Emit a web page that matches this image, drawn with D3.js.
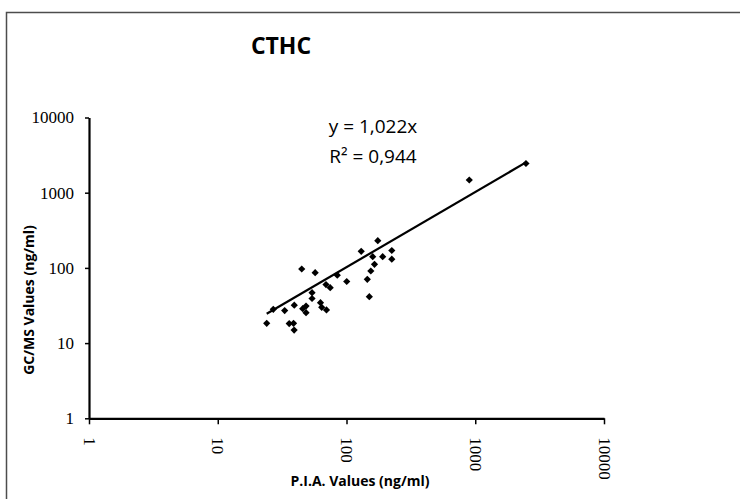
<!DOCTYPE html>
<html>
<head>
<meta charset="utf-8">
<script src="https://cdn.jsdelivr.net/npm/d3@7"></script>
<style>
  body { margin: 0; background: #fff; }
</style>
</head>
<body>
<div id="chart"></div>
<script>
// P.I.A. values (x) and GC/MS values (y), ng/ml
const piaValues = [24.0, 27.0, 33.1, 35.9, 38.8, 39.2, 39.3, 44.9, 45.7, 48.5, 48.5,
  54.0, 54.0, 57.1, 62.8, 64.2, 69.9, 69.3, 74.7, 84.8, 100.4, 130.1, 145.1,
  150.4, 154.5, 159.8, 165, 175, 191, 224.8, 224.8, 899, 2477];
const gcmsValues = [18.3, 28.1, 27.1, 18.2, 18.3, 14.9, 31.9, 96.7, 28.7, 31.1, 25.4,
  46.8, 39.2, 86.3, 34.5, 29.9, 27.6, 60.1, 54.5, 80.0, 65.9, 166.3, 70.5,
  41.4, 90.9, 140.9, 111.6, 230, 140.9, 170.4, 130.5, 1475, 2445];
const tickValues = [1, 10, 100, 1000, 10000];
const slope = 1.022;
const title = "CTHC";
const equation = ["y = 1,022x", "R² = 0,944"];

const width = 740, height = 499;

const svg = d3.select("#chart").append("svg")
  .attr("width", width)
  .attr("height", height)
  .style("font-family", "'Open Sans', sans-serif");

// outer frame (right and bottom edges fall off the picture)
svg.append("rect")
  .attr("x", 6.5).attr("y", 12.5)
  .attr("width", 760).attr("height", 520)
  .attr("fill", "none")
  .attr("stroke", "#4d4d4d")
  .attr("stroke-width", 1.5);

const x = d3.scaleLog().domain([1, 10000]).range([89, 604]);
const y = d3.scaleLog().domain([1, 10000]).range([418.3, 117.5]);

// y axis
const yAxis = svg.append("g")
  .attr("transform", `translate(${x(1)},0)`)
  .call(d3.axisLeft(y).tickValues(tickValues).tickFormat(d3.format("d"))
    .tickSize(4).tickSizeOuter(0).tickPadding(11));

// x axis
const xAxis = svg.append("g")
  .attr("transform", `translate(0,${y(1)})`)
  .call(d3.axisBottom(x).tickValues(tickValues).tickFormat(d3.format("d"))
    .tickSize(6).tickSizeOuter(0));

[xAxis, yAxis].forEach(a => {
  a.select(".domain").attr("stroke", "#000").attr("stroke-width", 2.2);
  a.selectAll(".tick line").attr("stroke", "#000").attr("stroke-width", 1.5);
  a.selectAll("text")
    .attr("fill", "#000")
    .style("font-family", "'Liberation Serif', 'Times New Roman', serif")
    .style("font-size", "17px");
});

xAxis.selectAll(".tick text")
  .attr("x", 0).attr("y", 0)
  .attr("dy", "0.35em")
  .attr("text-anchor", "start")
  .attr("transform", "translate(0,19) rotate(90)");

// trendline through the data range
const xr = d3.extent(piaValues);
svg.append("line")
  .attr("x1", x(xr[0])).attr("y1", y(slope * xr[0]))
  .attr("x2", x(xr[1])).attr("y2", y(slope * xr[1]))
  .attr("stroke", "#000")
  .attr("stroke-width", 2.2);

// points
const diamond = d3.symbol(d3.symbolSquare, 26);
svg.append("g")
  .selectAll("path")
  .data(piaValues.map((v, i) => [v, gcmsValues[i]]))
  .join("path")
    .attr("d", diamond)
    .attr("transform", d => `translate(${x(d[0])},${y(d[1])}) rotate(45)`)
    .attr("fill", "#000");

// title
svg.append("text")
  .attr("x", 281).attr("y", 54)
  .attr("text-anchor", "middle")
  .attr("font-size", "23px")
  .attr("font-weight", "700")
  .text(title);

// equation label
svg.selectAll(".eq")
  .data(equation)
  .join("text")
    .attr("class", "eq")
    .attr("x", 373)
    .attr("y", (d, i) => 133 + i * 30)
    .attr("text-anchor", "middle")
    .attr("font-size", "19px")
    .attr("fill", "#000")
    .text(d => d);

// axis titles
svg.append("text")
  .attr("x", 360).attr("y", 486)
  .attr("text-anchor", "middle")
  .attr("font-size", "14px")
  .attr("font-weight", "700")
  .text("P.I.A. Values (ng/ml)");

svg.append("text")
  .attr("transform", "translate(34,300) rotate(-90)")
  .attr("text-anchor", "middle")
  .attr("font-size", "14px")
  .attr("font-weight", "700")
  .text("GC/MS Values (ng/ml)");
</script>
</body>
</html>
